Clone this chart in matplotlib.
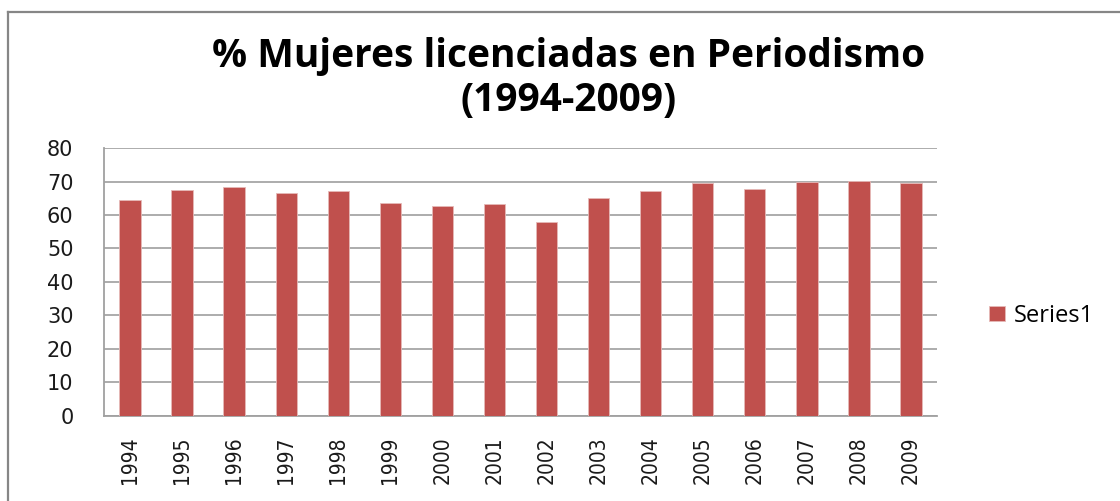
import matplotlib
matplotlib.use("Agg")
import matplotlib.pyplot as plt
from matplotlib.lines import Line2D

years = ["1994", "1995", "1996", "1997", "1998", "1999", "2000", "2001",
         "2002", "2003", "2004", "2005", "2006", "2007", "2008", "2009"]
values = [64.5, 67.5, 68.5, 66.5, 67.2, 63.6, 62.8, 63.2,
          57.9, 65.1, 67.1, 69.5, 67.8, 69.9, 70.1, 69.5]
yticks = [0, 10, 20, 30, 40, 50, 60, 70, 80]
title_line1 = "% Mujeres licenciadas en Periodismo"
title_line2 = "(1994-2009)"
series_name = "Series1"

W, H = 1120, 501
fig = plt.figure(figsize=(W / 100, H / 100), dpi=100)
ax = fig.add_axes([104 / W, 1 - 415.5 / H, (937 - 104) / W, (415.5 - 148.3) / H])

x = list(range(len(years)))
bars = ax.bar(x, values, width=0.41, color="#C0504D", edgecolor="#E6B9B8",
              linewidth=0.6, zorder=3, label=series_name)

ax.set_xlim(-0.5, len(years) - 0.5)
ax.set_ylim(0, 80)
ax.set_yticks(yticks)
ax.set_yticklabels([str(v) for v in yticks], fontsize=15, family="DejaVu Sans",
                   color="#1a1a1a")
ax.set_xticks(x)
ax.set_xticklabels(years, rotation=90, fontsize=15, family="DejaVu Sans",
                   fontstretch="condensed", color="#1a1a1a")
ax.tick_params(axis="both", length=0)
ax.tick_params(axis="y", pad=22)
ax.tick_params(axis="x", pad=15)
ax.yaxis.grid(True, color="#A6A6A6", linewidth=1.3, zorder=0)
ax.set_axisbelow(True)
for s in ["top", "right"]:
    ax.spines[s].set_visible(False)
for s in ["left", "bottom"]:
    ax.spines[s].set_color("#A0A0A0")
    ax.spines[s].set_linewidth(1.3)

fig.text(569 / W, 1 - 56 / H, title_line1, ha="center", va="center", fontsize=28,
         fontweight="bold", family="Open Sans", color="black")
fig.text(569 / W, 1 - 101 / H, title_line2, ha="center", va="center", fontsize=28,
         fontweight="bold", family="Open Sans", color="black")

leg = fig.legend(handles=[bars], labels=[series_name], loc="center left",
                 bbox_to_anchor=(968 / W, 1 - 316 / H), frameon=False,
                 prop={"family": "Open Sans", "size": 17}, handlelength=0.65,
                 handleheight=0.6, handletextpad=0.4)

fig.add_artist(Line2D([8 / W, 8 / W], [0, 1 - 12 / H], transform=fig.transFigure,
                      color="#868686", linewidth=1.6))
fig.add_artist(Line2D([8 / W, 1], [1 - 12 / H, 1 - 12 / H], transform=fig.transFigure,
                      color="#868686", linewidth=1.6))

fig.savefig("out.png", dpi=100, facecolor="white")
